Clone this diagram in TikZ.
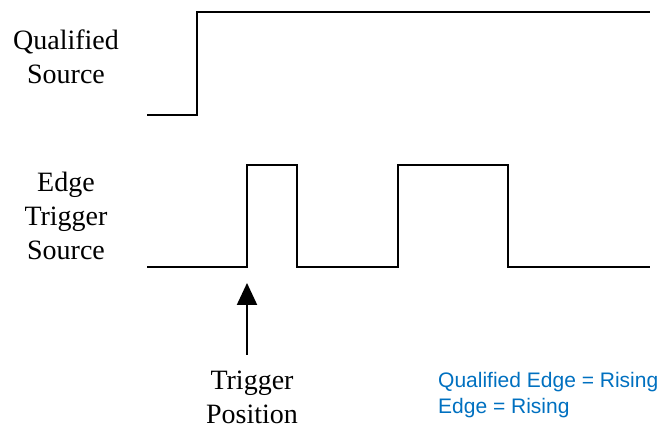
\documentclass[tikz,border=0pt]{standalone}
\usepackage{fontspec}
\setmainfont{Liberation Serif}
\newfontfamily\notefont{Liberation Sans}
\usepackage{tikz}
\usetikzlibrary{arrows.meta}
\definecolor{wfblue}{HTML}{0070C0}

\begin{document}
\begin{tikzpicture}[x=1pt, y=1pt,
  wave/.style={line width=2.2pt, line join=miter, color=black},
  siglabel/.style={align=center, anchor=base, inner sep=0pt,
                   font=\fontsize{28}{34}\selectfont},
  notelabel/.style={align=left, anchor=base west, inner sep=0pt, text=wfblue,
                    font=\notefont\fontsize{21}{26}\selectfont},
  arrowstyle/.style={-{Triangle[length=22pt, width=20pt]}, line width=2.2pt}
]
\useasboundingbox (0,0) rectangle (660,427);
% labels (anchored on the baseline of their last line)
\node[siglabel] (qsrc) at (66,343) {Qualified\\Source};
\node[siglabel] (esrc) at (66,167) {Edge\\Trigger\\Source};
\node[siglabel] (trigpos) at (252,3) {Trigger\\Position};
\node[notelabel] (note) at (438,13) {Qualified Edge = Rising\\Edge = Rising};
% waveforms
\draw[wave] (147,312) -- (197,312) -- (197,415) -- (650,415);
\draw[wave] (147,160) -- (247,160) -- (247,262) -- (297,262) -- (297,160)
  -- (398,160) -- (398,262) -- (508,262) -- (508,160) -- (650,160);
% trigger marker
\coordinate (tip) at (247,144);
\coordinate (tail) at (247,72);
\draw[arrowstyle] (tail) -- (tip);
\end{tikzpicture}
\end{document}
